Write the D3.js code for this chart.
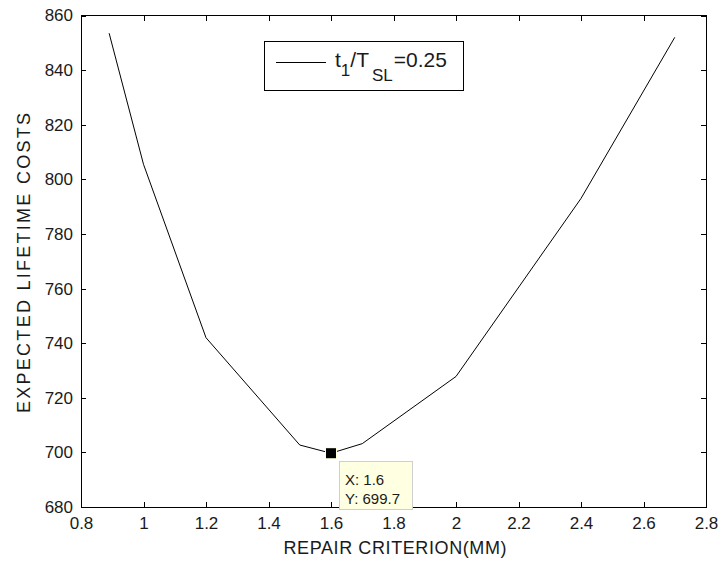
<!DOCTYPE html>
<html>
<head>
<meta charset="utf-8">
<script src="https://cdn.jsdelivr.net/npm/d3@7/dist/d3.min.js"></script>
<style>
  html, body { margin: 0; padding: 0; background: #fff; }
  svg { display: block; font-family: "Liberation Sans", Arial, sans-serif; }
</style>
</head>
<body>
<script>
// ---- data ----
const repairCriterion = [0.89, 1.0, 1.2, 1.5, 1.6, 1.7, 2.0, 2.4, 2.7];
const lifetimeCost    = [853.5, 805.5, 742.0, 702.7, 699.7, 703.2, 727.8, 793.0, 852.0];
const xTickValues = [0.8, 1.0, 1.2, 1.4, 1.6, 1.8, 2.0, 2.2, 2.4, 2.6, 2.8];
const xTickLabels = ["0.8", "1", "1.2", "1.4", "1.6", "1.8", "2", "2.2", "2.4", "2.6", "2.8"];
const yTickValues = [680, 700, 720, 740, 760, 780, 800, 820, 840, 860];
const yTickLabels = ["680", "700", "720", "740", "760", "780", "800", "820", "840", "860"];
const tipPoint = { x: 1.6, y: 699.7 };
const xLabel = "REPAIR CRITERION(MM)";
const yLabel = "EXPECTED LIFETIME COSTS";

// ---- layout ----
const W = 721, H = 566;
const L = 81, R = 706, T = 15.5, B = 507;

const svg = d3.select("body").append("svg").attr("width", W).attr("height", H);
svg.append("rect").attr("width", W).attr("height", H).attr("fill", "#fff");

const x = d3.scaleLinear().domain([0.8, 2.8]).range([L, R]);
const y = d3.scaleLinear().domain([680, 860]).range([B, T]);

const fmtX = d => xTickLabels[xTickValues.findIndex(v => Math.abs(v - d) < 1e-9)];
const fmtY = d => yTickLabels[yTickValues.indexOf(d)];

function styleAxis(g, showText) {
  g.select(".domain").remove();
  g.selectAll(".tick line").attr("stroke", "#000").attr("shape-rendering", "crispEdges");
  g.selectAll(".tick text").attr("fill", "#1a1a1a").attr("font-size", 17);
  if (!showText) g.selectAll(".tick text").remove();
}

svg.append("g").attr("transform", `translate(0,${B})`)
  .call(d3.axisBottom(x).tickValues(xTickValues).tickFormat(fmtX).tickSizeInner(-5).tickSizeOuter(0).tickPadding(10))
  .call(g => styleAxis(g, true));
svg.append("g").attr("transform", `translate(0,${T})`)
  .call(d3.axisTop(x).tickValues(xTickValues).tickSizeInner(-5).tickSizeOuter(0))
  .call(g => styleAxis(g, false));
svg.append("g").attr("transform", `translate(${L},0)`)
  .call(d3.axisLeft(y).tickValues(yTickValues).tickFormat(fmtY).tickSizeInner(-5).tickSizeOuter(0).tickPadding(8))
  .call(g => styleAxis(g, true));
svg.append("g").attr("transform", `translate(${R},0)`)
  .call(d3.axisRight(y).tickValues(yTickValues).tickSizeInner(-5).tickSizeOuter(0))
  .call(g => styleAxis(g, false));

// box
svg.append("rect").attr("x", L).attr("y", T).attr("width", R - L).attr("height", B - T)
  .attr("fill", "none").attr("stroke", "#000").attr("stroke-width", 1).attr("shape-rendering", "crispEdges");

// line
const pts = repairCriterion.map((d, i) => [d, lifetimeCost[i]]);
svg.append("path").datum(pts)
  .attr("fill", "none").attr("stroke", "#000").attr("stroke-width", 1)
  .attr("d", d3.line().x(d => x(d[0])).y(d => y(d[1])));

// axis labels
svg.append("text").attr("x", (L + R) / 2 + 1.5).attr("y", 554)
  .attr("text-anchor", "middle").attr("font-size", 18).attr("fill", "#1a1a1a")
  .attr("textLength", 223).attr("lengthAdjust", "spacing").text(xLabel);
svg.append("text").attr("transform", `translate(30,263) rotate(-90)`)
  .attr("text-anchor", "middle").attr("font-size", 18).attr("fill", "#1a1a1a")
  .attr("textLength", 300).attr("lengthAdjust", "spacing").text(yLabel);

// legend
const lg = svg.append("g");
lg.append("rect").attr("x", 264).attr("y", 41).attr("width", 199).attr("height", 49)
  .attr("fill", "#fff").attr("stroke", "#000").attr("shape-rendering", "crispEdges");
lg.append("line").attr("x1", 276).attr("x2", 326).attr("y1", 62).attr("y2", 62)
  .attr("stroke", "#000").attr("shape-rendering", "crispEdges");
const lt = lg.append("text").attr("x", 335).attr("y", 67).attr("font-size", 21).attr("fill", "#1a1a1a");
lt.append("tspan").text("t");
lt.append("tspan").attr("font-size", 17).attr("dy", 9).text("1");
lt.append("tspan").attr("dy", -9).text("/T");
lt.append("tspan").attr("font-size", 17).attr("dy", 14).attr("dx", 3).text("SL");
lt.append("tspan").attr("dy", -14).attr("dx", 1).text("=0.25");

// data tip
const mx = x(tipPoint.x), my = y(tipPoint.y);
svg.append("rect").attr("x", mx - 6).attr("y", my - 6).attr("width", 12).attr("height", 12)
  .attr("fill", "#ffffe0");
svg.append("rect").attr("x", mx - 5).attr("y", my - 5).attr("width", 10).attr("height", 10)
  .attr("fill", "#000");
const tip = svg.append("g").attr("transform", `translate(${mx + 8},${my + 8})`);
tip.append("rect").attr("x", 0).attr("y", 0).attr("width", 73).attr("height", 48)
  .attr("fill", "#ffffe1").attr("stroke", "#cfcfcf").attr("shape-rendering", "crispEdges");
tip.append("text").attr("x", 6).attr("y", 24).attr("font-size", 15).attr("fill", "#1a1a1a")
  .text("X: " + tipPoint.x);
tip.append("text").attr("x", 6).attr("y", 43).attr("font-size", 15).attr("fill", "#1a1a1a")
  .text("Y: " + tipPoint.y);
</script>
</body>
</html>
